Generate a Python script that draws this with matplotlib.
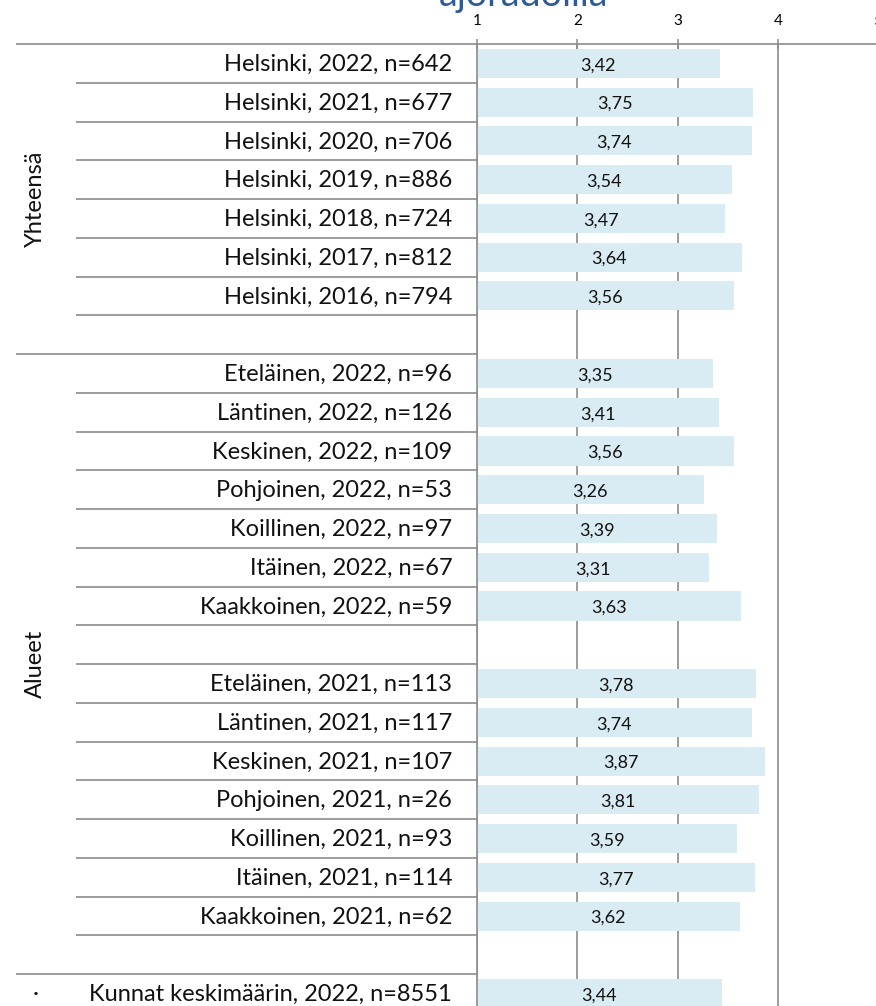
import matplotlib
matplotlib.use("Agg")
import matplotlib.pyplot as plt
import matplotlib.transforms as mtransforms

plt.rcParams['font.family'] = ['Lato', 'DejaVu Sans']

# rows top to bottom, '' = empty spacer row
categories = [
    'Helsinki, 2022, n=642', 'Helsinki, 2021, n=677', 'Helsinki, 2020, n=706',
    'Helsinki, 2019, n=886', 'Helsinki, 2018, n=724', 'Helsinki, 2017, n=812',
    'Helsinki, 2016, n=794', '',
    'Eteläinen, 2022, n=96', 'Läntinen, 2022, n=126', 'Keskinen, 2022, n=109',
    'Pohjoinen, 2022, n=53', 'Koillinen, 2022, n=97', 'Itäinen, 2022, n=67',
    'Kaakkoinen, 2022, n=59', '',
    'Eteläinen, 2021, n=113', 'Läntinen, 2021, n=117', 'Keskinen, 2021, n=107',
    'Pohjoinen, 2021, n=26', 'Koillinen, 2021, n=93', 'Itäinen, 2021, n=114',
    'Kaakkoinen, 2021, n=62', '',
    'Kunnat keskimäärin, 2022, n=8551',
]
values = [
    3.42, 3.75, 3.74, 3.54, 3.47, 3.64, 3.56, None,
    3.35, 3.41, 3.56, 3.26, 3.39, 3.31, 3.63, None,
    3.78, 3.74, 3.87, 3.81, 3.59, 3.77, 3.62, None,
    3.44,
]
# group labels: (text, first row, last row)
groups = [('Yhteensä', 0, 7), ('Alueet', 8, 23), ('·', 24, 24)]
x_ticks = [1, 2, 3, 4, 5]

W, H = 876, 1006
fig = plt.figure(figsize=(W / 100, H / 100), dpi=100)
ax = fig.add_axes([477 / W, -7 / H, 401 / W, 969 / H])

gray = '#8c8c8c'
bar_color = '#daecf3'

rows = list(range(len(categories)))
for r, v in zip(rows, values):
    if v is None:
        continue
    ax.barh(r, v - 1, left=1, height=0.75, color=bar_color, zorder=2)
    ax.text(1 + (v - 1) / 2, r + 0.05, f'{v:.2f}'.replace('.', ','),
            ha='center', va='center', fontsize=13, color='#111111', zorder=3)

ax.set_xlim(1, 5)
ax.set_ylim(len(categories) - 0.5, -0.5)
ax.xaxis.tick_top()
ax.set_xticks(x_ticks)
ax.set_xticklabels([str(t) for t in x_ticks])
ax.tick_params(axis='x', direction='inout', length=7, width=1.1, color=gray,
               labelsize=11, pad=8)
ax.set_yticks([])
ax.grid(axis='x', color=gray, linewidth=1.2, zorder=0)
ax.set_axisbelow(True)

for side in ['right', 'bottom']:
    ax.spines[side].set_visible(False)
for side in ['top', 'left']:
    ax.spines[side].set_color(gray)
    ax.spines[side].set_linewidth(1.2)

# category labels and separators
trans = mtransforms.blended_transform_factory(ax.transAxes, ax.transData)
for r, lab in zip(rows, categories):
    ax.text(-0.062, r + 0.03, lab, transform=trans, ha='right', va='center',
            fontsize=17, color='#111111', clip_on=False)

long_lines = {-0.5, 7.5, 23.5}
for k in range(len(categories)):
    yb = k - 0.5
    x0 = -1.15 if yb in long_lines else -1.0
    ax.plot([x0, 0], [yb, yb], transform=trans, color=gray, lw=1.2,
            clip_on=False, solid_capstyle='butt')

for text, r0, r1 in groups:
    ax.text(-1.1, (r0 + r1) / 2, text, transform=trans, ha='center',
            va='center', rotation=90 if len(text) > 1 else 0,
            fontsize=17, color='#111111', clip_on=False)

fig.text(524 / W, 1 - 6 / H, 'ajoradoilla', ha='center', va='baseline',
         fontsize=27, color='#2e5a96')

fig.savefig('out.png', dpi=100)
